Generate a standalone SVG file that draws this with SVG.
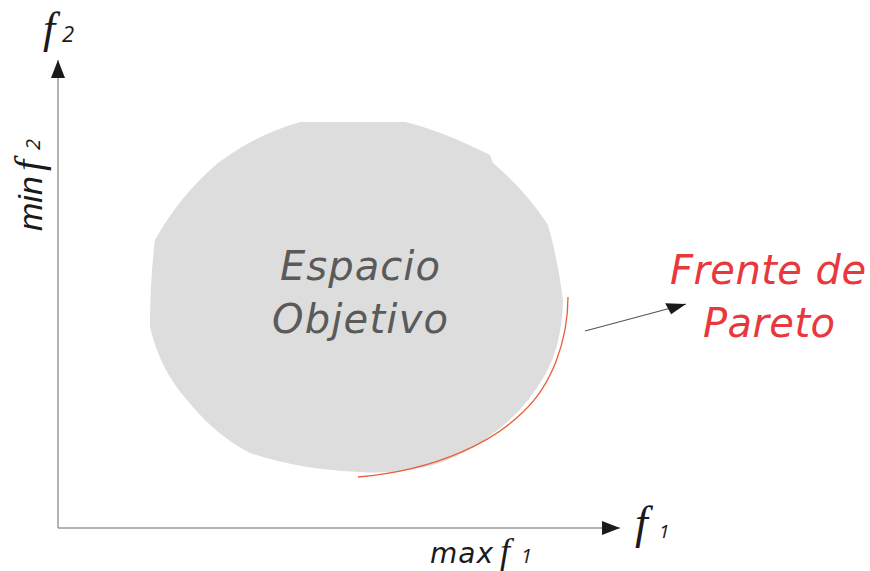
<svg xmlns="http://www.w3.org/2000/svg" width="870" height="571" viewBox="0 0 870 571">
<style>
.axis{stroke:#9a9a9a;stroke-width:1.5;fill:none}
.lbl{font-family:"DejaVu Sans",Verdana,sans-serif;font-style:italic}
.nar{font-family:"Liberation Sans",Arial,sans-serif;font-style:italic;fill:#1a1a1a}
.fvar{font-family:"Liberation Serif","Times New Roman",serif;font-style:italic;fill:#1a1a1a}
.sub{font-family:"Open Sans","DejaVu Sans",sans-serif;font-style:italic;fill:#1a1a1a}
</style>
<defs>
<marker id="ah" markerUnits="userSpaceOnUse" markerWidth="20" markerHeight="16" refX="18" refY="7" orient="auto">
<path d="M0,0 L18,7 L0,14 Z" fill="#1a1a1a"/>
</marker>
<marker id="ah2" markerUnits="userSpaceOnUse" markerWidth="22" markerHeight="16" refX="20" refY="6" orient="auto">
<path d="M0,0 L20,6 L3,12 Z" fill="#1a1a1a"/>
</marker>
</defs>
<g id="connectors">
<line class="axis" x1="58" y1="528" x2="58" y2="60" marker-end="url(#ah)"/>
<line class="axis" x1="58" y1="528" x2="620" y2="528" marker-end="url(#ah)"/>
<line x1="585" y1="331" x2="686" y2="304" stroke="#555" stroke-width="1.2" marker-end="url(#ah2)"/>
</g>
<g id="espacio-objetivo">
<path d="M300,122 L405,122 Q440,130 490,155 L493,163 Q525,190 548,225 Q558,260 563,300 Q562,345 545,375 Q525,410 495,432 Q470,452 440,463 Q400,475 360,472 Q300,470 250,453 Q215,435 187,400 Q160,370 150,327 Q150,280 155,240 Q180,195 218,163 Q255,135 300,122 Z" fill="#dddddd"/>
<text class="lbl" x="280" y="280" font-size="40" fill="#5a5a5a" textLength="160">Espacio</text>
<text class="lbl" x="272" y="333" font-size="40" fill="#5a5a5a" textLength="176">Objetivo</text>
</g>
<g id="frente-pareto">
<path d="M568,297 C568,340 552,385 523,412 C495,440 440,470 358,477" fill="none" stroke="#e8603a" stroke-width="1.3"/>
<text class="lbl" x="670" y="284" font-size="40" fill="#e8383d" textLength="196">Frente de</text>
<text class="lbl" x="703" y="337" font-size="40" fill="#e8383d" textLength="132">Pareto</text>
</g>
<g id="axis-labels">
<text class="fvar" x="43" y="43" font-size="44">f</text>
<text class="sub" x="62" y="42" font-size="22">2</text>
<text class="fvar" x="635" y="538" font-size="46">f</text>
<text class="sub" x="659" y="538" font-size="19">1</text>
<g transform="translate(42,231) rotate(-90)">
<text class="nar" x="0" y="0" font-size="34">min</text>
<text class="fvar" x="60" y="0" font-size="40">f</text>
<text class="sub" x="81" y="-2" font-size="20">2</text>
</g>
<text class="lbl" x="430" y="563" font-size="28" fill="#1a1a1a" textLength="63">max</text>
<text class="fvar" x="500" y="563" font-size="36">f</text>
<text class="sub" x="521" y="563" font-size="20">1</text>
</g>
</svg>
